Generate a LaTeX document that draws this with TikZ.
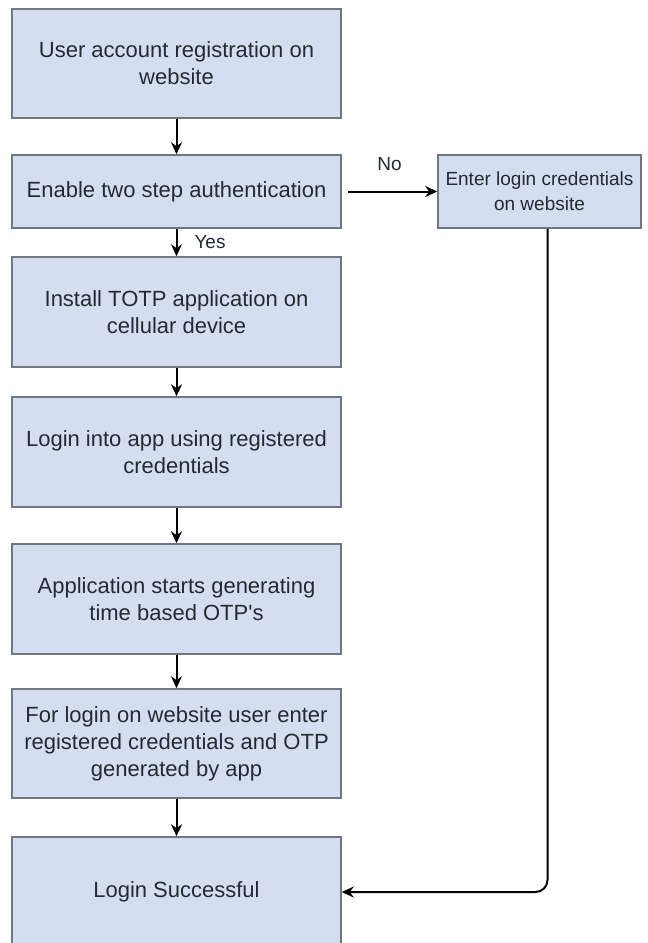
\documentclass[tikz,border=0pt]{standalone}
\usepackage{fontspec}
\setmainfont{Liberation Sans}
\usetikzlibrary{arrows.meta}
\definecolor{boxfill}{RGB}{212,222,240}
\definecolor{boxline}{RGB}{112,118,130}
\definecolor{boxtext}{RGB}{36,42,52}
\tikzset{
	stepbox/.style={draw=boxline, fill=boxfill, line width=1.5pt, text=boxtext, align=center,
		minimum width=329pt, minimum height=110pt, inner sep=0pt, font=\fontsize{22}{27}\selectfont},
	flow/.style={line width=2pt, -{Stealth[length=12pt,width=11pt]}},
	lbl/.style={text=boxtext, inner sep=0pt, font=\fontsize{19}{22}\selectfont}
}

\begin{document}
\begin{tikzpicture}[x=1pt, y=-1pt]
			%%%%% START %%%%%
			
			\useasboundingbox (0, 0) rectangle (648, 943);
			\fill[white] (0, 0) rectangle (648, 943);
			
			% main column
			\node[stepbox, minimum height=109pt] (reg) at (176.5, 63.5) {User account registration on\\website};
			\node[stepbox, minimum height=73pt] (twostep) at (176.5, 191.5) {Enable two step authentication};
			\node[stepbox] (install) at (176.5, 312) {Install TOTP application on\\cellular device};
			\node[stepbox] (applogin) at (176.5, 452) {Login into app using registered\\credentials};
			\node[stepbox] (otp) at (176.5, 599) {Application starts generating\\time based OTP\textquotesingle s};
			\node[stepbox, minimum height=109pt] (weblogin) at (176.5, 743.5) {For login on website user enter\\registered credentials and OTP\\generated by app};
			\node[stepbox] (success) at (176.5, 892) {Login Successful};
			
			% side branch
			\node[stepbox, minimum width=203pt, minimum height=73pt, font=\fontsize{19}{25}\selectfont] (creds) at (539.5, 191.5) {Enter login credentials\\on website};
			
			\draw[flow] (reg) -- (twostep);
			\draw[flow] (twostep) -- node[lbl, right=17pt] {Yes} (install);
			\draw[flow] (install) -- (applogin);
			\draw[flow] (applogin) -- (otp);
			\draw[flow] (otp) -- (weblogin);
			\draw[flow] (weblogin) -- (success);
			
			\draw[flow, shorten <=6pt] (twostep.east) -- node[lbl, above=20pt] {No} (creds.west);
			\draw[flow, rounded corners=12pt] (creds.south) ++(8, 0) |- (success.east);
			
			%%%%% END %%%%%
\end{tikzpicture}
\end{document}
